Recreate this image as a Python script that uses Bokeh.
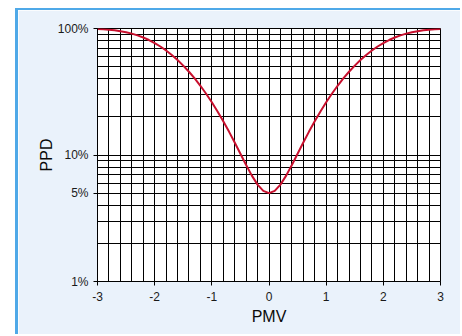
from bokeh.plotting import figure
from bokeh.models import FixedTicker, CustomJSTickFormatter, Spacer
from bokeh.layouts import row, column
from bokeh.embed import file_html
from bokeh.resources import INLINE
import numpy as np

# PMV values and PPD (%)
pmv = [-3.0, -2.9, -2.8, -2.7, -2.6, -2.5, -2.4, -2.3, -2.2, -2.1,
       -2.0, -1.9, -1.8, -1.7, -1.6, -1.5, -1.4, -1.3, -1.2, -1.1,
       -1.0, -0.9, -0.8, -0.7, -0.6, -0.5, -0.4, -0.3, -0.2, -0.1,
       0.0, 0.1, 0.2, 0.3, 0.4, 0.5, 0.6, 0.7, 0.8, 0.9,
       1.0, 1.1, 1.2, 1.3, 1.4, 1.5, 1.6, 1.7, 1.8, 1.9,
       2.0, 2.1, 2.2, 2.3, 2.4, 2.5, 2.6, 2.7, 2.8, 2.9, 3.0]
ppd = [99.12, 98.58, 97.81, 96.73, 95.29, 93.43, 91.10, 88.26, 84.91, 81.07,
       76.76, 72.05, 67.02, 61.75, 56.35, 50.90, 45.51, 40.27, 35.25, 30.51,
       26.12, 22.10, 18.49, 15.31, 12.55, 10.23, 8.33, 6.87, 5.83, 5.21,
       5.00, 5.21, 5.83, 6.87, 8.33, 10.23, 12.55, 15.31, 18.49, 22.10,
       26.12, 30.51, 35.25, 40.27, 45.51, 50.90, 56.35, 61.75, 67.02, 72.05,
       76.76, 81.07, 84.91, 88.26, 91.10, 93.43, 95.29, 96.73, 97.81, 98.58, 99.12]

x_ticks = [-3, -2, -1, 0, 1, 2, 3]
y_ticks = [1, 5, 10, 100]
y_tick_labels = ["1%", "5%", "10%", "100%"]

BG = "#EAF2FB"
BLUE = "#4FA9E8"

p = figure(width=442, height=324, y_axis_type="log",
           x_range=(-3, 3), y_range=(1, 100),
           output_backend="svg", toolbar_location=None,
           background_fill_color="white", border_fill_color=BG,
           min_border_left=79, min_border_right=20,
           min_border_top=18, min_border_bottom=53)

p.outline_line_color = "black"
p.outline_line_width = 1

# grids
p.xgrid.ticker = FixedTicker(ticks=list(np.round(np.arange(-3, 3.001, 0.2), 2)))
ygrid_pos = [float(v) for d in (1, 10) for v in np.arange(1, 10) * d] + [100.0]
p.ygrid.ticker = FixedTicker(ticks=ygrid_pos)
for g in (p.xgrid, p.ygrid):
    g.grid_line_color = "black"
    g.grid_line_width = 1
    g.grid_line_alpha = 1.0

p.xaxis.ticker = FixedTicker(ticks=x_ticks)
p.xaxis.formatter = CustomJSTickFormatter(code="return String(tick);")
p.yaxis.ticker = FixedTicker(ticks=y_ticks)
label_map = {str(t): l for t, l in zip(y_ticks, y_tick_labels)}
p.yaxis.formatter = CustomJSTickFormatter(
    args=dict(m=label_map),
    code="return m[String(tick)] !== undefined ? m[String(tick)] : '';")

for ax in (p.xaxis, p.yaxis):
    ax.axis_line_color = "black"
    ax.major_tick_line_color = "black"
    ax.major_tick_in = 0
    ax.major_tick_out = 4
    ax.minor_tick_line_color = None
    ax.major_label_text_font = "Liberation Sans"
    ax.major_label_text_font_size = "12px"
    ax.major_label_text_color = "#1a1a1a"
    ax.axis_label_text_font = "Liberation Sans"
    ax.axis_label_text_font_size = "16px"
    ax.axis_label_text_font_style = "normal"
    ax.axis_label_text_color = "#0a0a0a"

p.xaxis.axis_label = "PMV"
p.yaxis.axis_label = "PPD"
p.xaxis.major_label_standoff = 6
p.xaxis.axis_label_standoff = 4
p.yaxis.major_label_standoff = 5
p.yaxis.axis_label_standoff = 0

p.line(pmv, ppd, line_color="#C8102E", line_width=2)

top_gap = Spacer(width=460, height=8)
left_gap = Spacer(width=15, height=326)
top_bar = Spacer(width=445, height=2, styles={"background-color": BLUE})
left_bar = Spacer(width=3, height=324, styles={"background-color": BLUE})
layout = column(
    top_gap,
    row(left_gap, column(top_bar, row(left_bar, p, spacing=0), spacing=0), spacing=0),
    spacing=0)

open("out.html", "w").write(file_html(layout, INLINE))
